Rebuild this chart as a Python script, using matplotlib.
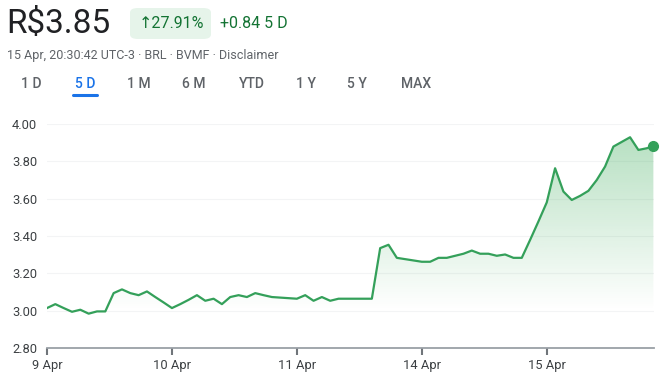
import numpy as np
import matplotlib
matplotlib.use('Agg')
import matplotlib.pyplot as plt
from matplotlib.patches import FancyBboxPatch

plt.rcParams['font.family'] = ['Roboto', 'DejaVu Sans']

# cotações, 15 pontos por dia de pregão
precos = [3.014, 3.035, 3.014, 2.994, 3.005, 2.984, 2.996, 2.996, 3.094, 3.114,
          3.094, 3.083, 3.103, 3.073, 3.044, 3.014, 3.035, 3.058, 3.083, 3.053,
          3.064, 3.035, 3.073, 3.083, 3.073, 3.094, 3.083, 3.073, 3.070, 3.067,
          3.064, 3.083, 3.053, 3.073, 3.053, 3.064, 3.064, 3.064, 3.064, 3.064,
          3.335, 3.353, 3.283, 3.276, 3.269, 3.262, 3.262, 3.283, 3.283, 3.294,
          3.305, 3.322, 3.305, 3.305, 3.294, 3.301, 3.283, 3.283, 3.379, 3.478,
          3.580, 3.763, 3.638, 3.593, 3.615, 3.642, 3.700, 3.772, 3.879, 3.904,
          3.929, 3.861, 3.870, 3.882]
passos = list(range(len(precos) - 1)) + [72.8]
dias = ['9 Apr', '10 Apr', '11 Apr', '14 Apr', '15 Apr']
yticks = [2.80, 3.00, 3.20, 3.40, 3.60, 3.80, 4.00]
abas = ['1 D', '5 D', '1 M', '6 M', 'YTD', '1 Y', '5 Y', 'MAX']
abas_x = [31, 85, 139, 194, 252, 306, 357, 416]

verde = '#34a05a'
cinza = '#5f6368'

x = np.array(passos) / 15.0
y = np.array(precos)

W, H = 662, 384
fig = plt.figure(figsize=(W / 100, H / 100), dpi=100)
ax = fig.add_axes([47 / W, 36 / H, (654 - 47) / W, (348 - 124) / H])

ax.set_xlim(0, x[-1] + 0.005)
ax.set_ylim(2.80, 4.00)

# gradiente sob a linha
grad = np.linspace(0, 1, 256).reshape(-1, 1)
alfa = np.clip((grad - 0.17) / 0.83, 0, 1) * 0.38
img = np.zeros((256, 1, 4))
img[..., 0] = 0x34 / 255
img[..., 1] = 0xa8 / 255
img[..., 2] = 0x53 / 255
img[..., 3] = alfa
im = ax.imshow(img, extent=[0, x[-1], 2.80, 4.00], origin='lower', aspect='auto', zorder=1)
poly = ax.fill_between(x, y, 2.80, color='none', lw=0)
path = poly.get_paths()[0]
im.set_clip_path(path, transform=ax.transData)

for v in yticks[1:]:
    ax.axhline(v, color='#f3f4f5', lw=0.8, zorder=0.5)

ax.plot(x, y, color=verde, lw=1.6, zorder=3, solid_joinstyle='round')
ax.plot(x[-1], y[-1], 'o', color=verde, ms=7, zorder=4, clip_on=False)

for s in ['top', 'right', 'left']:
    ax.spines[s].set_visible(False)
ax.spines['bottom'].set_color('#9aa0a6')
ax.spines['bottom'].set_linewidth(1.3)

ax.set_xticks(range(len(dias)))
ax.set_xticklabels(dias)
ax.set_yticks(yticks)
ax.set_yticklabels(['%.2f' % v for v in yticks])
ax.tick_params(axis='x', length=5, width=1.5, color='#70757a', labelsize=9.3,
               labelcolor='#3c4043', pad=3)
ax.tick_params(axis='y', length=0, labelsize=9.3, labelcolor='#3c4043', pad=7)

# cabeçalho
fig.text(6 / W, 1 - 24 / H, 'R$3.85', fontsize=24, color='#202124', va='center', ha='left')
badge = FancyBboxPatch((130 / W, 1 - 39 / H), 81 / W, 31 / H,
                       boxstyle='round,pad=0,rounding_size=0.012',
                       transform=fig.transFigure, facecolor='#e6f4ea', edgecolor='none')
fig.patches.append(badge)
fig.text(171 / W, 1 - 23 / H, '↑27.91%', fontsize=11.5, color='#137333',
         va='center', ha='center')
fig.text(220 / W, 1 - 23 / H, '+0.84 5 D', fontsize=11.5, color='#137333',
         va='center', ha='left')
fig.text(7 / W, 1 - 55 / H, '15 Apr, 20:30:42 UTC-3 · BRL · BVMF · Disclaimer',
         fontsize=9, color=cinza, va='center', ha='left')

for aba, ax_x in zip(abas, abas_x):
    cor = '#1a73e8' if aba == '5 D' else cinza
    fig.text(ax_x / W, 1 - 84 / H, aba, fontsize=10, color=cor, va='center',
             ha='center', fontweight='medium')
fig.add_artist(plt.Line2D([73 / W, 97 / W], [1 - 95 / H, 1 - 95 / H],
                          color='#1a73e8', lw=2.2, solid_capstyle='round'))

fig.savefig('out.png', dpi=100)
